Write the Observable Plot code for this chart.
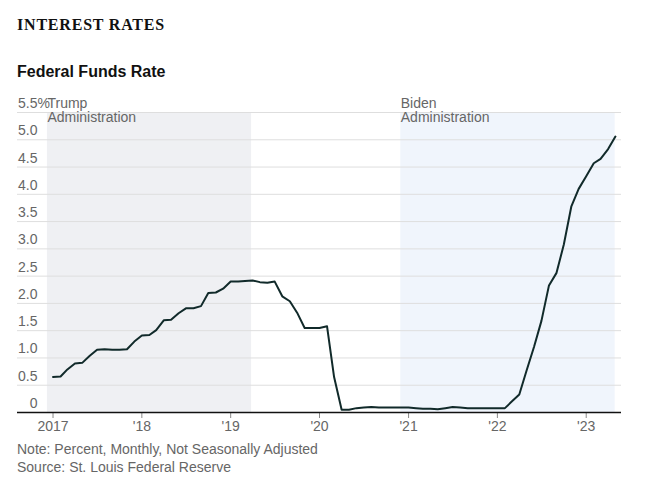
<!DOCTYPE html>
<html>
<head>
<meta charset="utf-8">
<script src="https://cdn.jsdelivr.net/npm/d3@7"></script>
<script src="https://cdn.jsdelivr.net/npm/@observablehq/plot@0.6"></script>
<style>
  html, body { margin: 0; padding: 0; background: #fff; }
  body { width: 667px; height: 492px; position: relative; overflow: hidden; font-family: "Liberation Sans", Arial, sans-serif; }
  #title { position: absolute; left: 17px; top: 17px; font-family: "Liberation Serif", "Times New Roman", serif; font-weight: bold; font-size: 16px; line-height: 16px; letter-spacing: 0.8px; color: #111; white-space: nowrap; }
  #subtitle { position: absolute; left: 17px; top: 64px; font-weight: bold; font-size: 16px; line-height: 16px; color: #111; white-space: nowrap; }
  #chart { position: absolute; left: 0; top: 88px; }
  #note { position: absolute; left: 17px; top: 440px; font-size: 14px; line-height: 18px; color: #666; white-space: nowrap; }
</style>
</head>
<body>
<div id="title">INTEREST RATES</div>
<div id="subtitle">Federal Funds Rate</div>
<div id="chart"></div>
<div id="note">Note: Percent, Monthly, Not Seasonally Adjusted<br>Source: St. Louis Federal Reserve</div>
<script>
// Monthly effective federal funds rate, Jan 2017 – May 2023 (percent)
const startYear = 2017;
const rates = [
  // 2017
  0.65, 0.66, 0.79, 0.90, 0.91, 1.04, 1.15, 1.16, 1.15, 1.15, 1.16, 1.30,
  // 2018
  1.41, 1.42, 1.51, 1.69, 1.70, 1.82, 1.91, 1.91, 1.95, 2.19, 2.20, 2.27,
  // 2019
  2.40, 2.40, 2.41, 2.42, 2.39, 2.38, 2.40, 2.13, 2.04, 1.83, 1.55, 1.55,
  // 2020
  1.55, 1.58, 0.65, 0.05, 0.05, 0.08, 0.09, 0.10, 0.09, 0.09, 0.09, 0.09,
  // 2021
  0.09, 0.08, 0.07, 0.07, 0.06, 0.08, 0.10, 0.09, 0.08, 0.08, 0.08, 0.08,
  // 2022
  0.08, 0.08, 0.20, 0.33, 0.77, 1.21, 1.68, 2.33, 2.56, 3.08, 3.78, 4.10,
  // 2023
  4.33, 4.57, 4.65, 4.83, 5.06
];

const adminLabels = ["Trump\nAdministration", "Biden\nAdministration"];
const adminStart = ["2016-12-09", "2020-11-30"];
const adminEnd = ["2019-03-28", "2023-04-30"];
const adminColors = ["#eff0f3", "#f0f5fc"];

const yTicks = [0, 0.5, 1, 1.5, 2, 2.5, 3, 3.5, 4, 4.5, 5, 5.5];
const xTickYears = [2017, 2018, 2019, 2020, 2021, 2022, 2023];
const xDomain = ["2016-08-08", "2023-05-26"];

const data = rates.map((v, i) => ({ date: new Date(Date.UTC(startYear, i, 1)), rate: v }));
const admins = adminLabels.map((label, i) => ({
  label, start: new Date(adminStart[i]), end: new Date(adminEnd[i]), color: adminColors[i]
}));

const font = "'Liberation Sans', Arial, sans-serif";

const chart = Plot.plot({
  width: 667,
  height: 350,
  marginTop: 24,
  marginBottom: 26,
  marginLeft: 17,
  marginRight: 46,
  style: { fontFamily: font, fontSize: "14px", background: "transparent", overflow: "visible" },
  x: { type: "utc", domain: xDomain.map(d => new Date(d)) },
  y: { domain: [0, 5.5] },
  marks: [
    ...admins.map(a => Plot.rect([a], { x1: "start", x2: "end", y1: 0, y2: 5.5, fill: a.color })),
    Plot.gridY(yTicks.filter(t => t > 0), { stroke: "#dedede", strokeOpacity: 1, strokeWidth: 1 }),
    Plot.axisY({
      ticks: yTicks,
      anchor: "left",
      tickSize: 0,
      tickPadding: 0,
      dx: 20,
      dy: -9,
      textAnchor: "end",
      fill: "#666",
      fontSize: 14,
      label: null,
      tickFormat: d => d === 0 ? "0" : d.toFixed(1)
    }),
    Plot.text([5.5], { y: d => d, frameAnchor: "left", dx: 20, dy: -9, text: () => "%", textAnchor: "start", fill: "#666", fontSize: 14 }),
    Plot.text(admins, { x: "start", y: () => 5.5, text: "label", textAnchor: "start", lineAnchor: "middle", lineHeight: 1, dy: -2, fontSize: 14, fill: "#666" }),
    Plot.axisX({
      ticks: xTickYears.map(y => new Date(Date.UTC(y, 0, 1))),
      tickFormat: d => d.getUTCFullYear() === 2017 ? "2017" : "'" + String(d.getUTCFullYear()).slice(2),
      tickSize: 6,
      tickPadding: 3,
      stroke: "#888",
      fill: "#666",
      fontSize: 14,
      label: null
    }),
    Plot.ruleY([0], { stroke: "#111", strokeWidth: 1.5 }),
    Plot.line(data, { x: "date", y: "rate", stroke: "#112a2a", strokeWidth: 2, strokeLinejoin: "round" })
  ]
});
document.getElementById("chart").appendChild(chart);
</script>
</body>
</html>
